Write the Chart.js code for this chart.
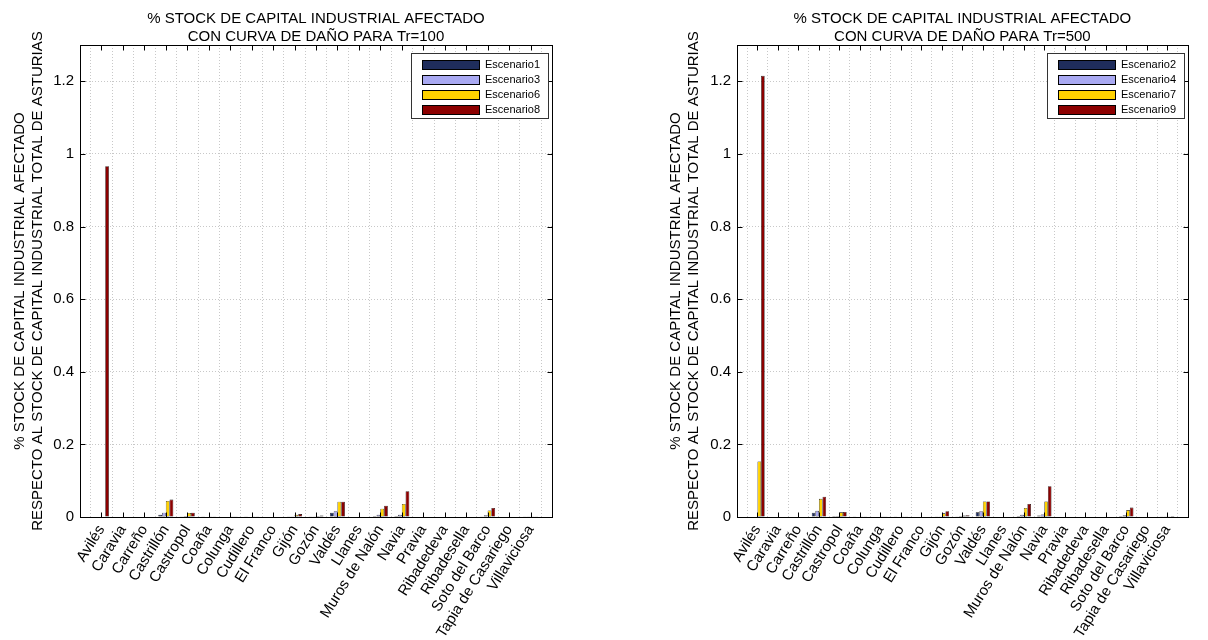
<!DOCTYPE html>
<html><head><meta charset="utf-8">
<script src="https://cdn.jsdelivr.net/npm/chart.js@4.4.0/dist/chart.umd.min.js"></script>
<style>
html,body{margin:0;padding:0;background:#fff;}
#wrap{position:relative;width:1208px;height:640px;overflow:hidden;}
.box{position:absolute;top:0;width:604px;height:640px;}
</style></head><body>
<div id="wrap">
<div class="box" style="left:0"><canvas id="c1" width="604" height="640"></canvas></div>
<div class="box" style="left:604px"><canvas id="c2" width="604" height="640"></canvas></div>
</div>
<script>
const categories = ['Avilés','Caravia','Carreño','Castrillón','Castropol','Coaña','Colunga','Cudillero','El Franco','Gijón','Gozón','Valdés','Llanes','Muros de Nalón','Navia','Pravia','Ribadedeva','Ribadesella','Soto del Barco','Tapia de Casariego','Villaviciosa'];
const yTickValues = [0, 0.2, 0.4, 0.6, 0.8, 1, 1.2];
const yTitle = ['% STOCK DE CAPITAL INDUSTRIAL AFECTADO', 'RESPECTO AL STOCK DE CAPITAL INDUSTRIAL TOTAL DE ASTURIAS'];
const title100 = ['% STOCK DE CAPITAL INDUSTRIAL AFECTADO', 'CON CURVA DE DAÑO PARA Tr=100'];
const title500 = ['% STOCK DE CAPITAL INDUSTRIAL AFECTADO', 'CON CURVA DE DAÑO PARA Tr=500'];

// Tr=100
const labels100 = ['Escenario1','Escenario3','Escenario6','Escenario8'];
const escenario1 = [0, 0, 0, 0.006, 0.002, 0.001, 0, 0.001, 0, 0.001, 0.002, 0.012, 0, 0.003, 0.003, 0, 0, 0, 0.002, 0, 0.001];
const escenario3 = [0, 0, 0, 0.012, 0.003, 0, 0, 0, 0, 0.002, 0.002, 0.016, 0, 0.006, 0.006, 0, 0, 0, 0.005, 0, 0.002];
const escenario6 = [0, 0, 0, 0.044, 0.011, 0.001, 0.001, 0.001, 0, 0.006, 0.003, 0.042, 0, 0.023, 0.036, 0, 0, 0, 0.018, 0, 0.002];
const escenario8 = [0.966, 0, 0, 0.048, 0.012, 0.001, 0.001, 0.001, 0, 0.008, 0.004, 0.042, 0, 0.031, 0.071, 0, 0, 0, 0.025, 0, 0.002];

// Tr=500
const labels500 = ['Escenario2','Escenario4','Escenario7','Escenario9'];
const escenario2 = [0, 0, 0, 0.012, 0.003, 0.001, 0, 0.001, 0, 0.001, 0.002, 0.013, 0, 0.003, 0.004, 0, 0, 0, 0.003, 0, 0.001];
const escenario4 = [0, 0, 0, 0.017, 0.003, 0, 0, 0, 0, 0.002, 0.003, 0.016, 0, 0.006, 0.007, 0, 0, 0, 0.005, 0, 0.002];
const escenario7 = [0.153, 0, 0, 0.050, 0.013, 0.001, 0.001, 0.001, 0, 0.010, 0.004, 0.043, 0, 0.025, 0.043, 0, 0, 0, 0.019, 0, 0.002];
const escenario9 = [1.215, 0, 0, 0.056, 0.014, 0.001, 0.001, 0.001, 0, 0.016, 0.005, 0.043, 0, 0.036, 0.085, 0, 0, 0, 0.026, 0, 0.003];

const colors = ['#1f2d5c', '#a9a9f2', '#ffd200', '#8c0000'];
const FONT = '"Liberation Sans", Arial, sans-serif';

const pad = arr => [null, ...arr, null];

const matlabPlugin = {
  id: 'matlab',
  afterDraw(chart, args, opts) {
    const {ctx, chartArea: a} = chart;
    const xs = chart.scales.x, ys = chart.scales.y;
    ctx.save();
    // frame
    ctx.strokeStyle = '#000'; ctx.lineWidth = 1;
    const L = Math.round(a.left) + 0.5, T = Math.round(a.top) + 0.5;
    const R = Math.round(a.right) + 0.5, B = Math.round(a.bottom) + 0.5;
    ctx.strokeRect(L, T, R - L, B - T);
    // inward ticks
    const tl = 5;
    ctx.beginPath();
    chart.data.labels.forEach((lab, i) => {
      if (!lab) return;
      const x = Math.round(xs.getPixelForTick(i)) + 0.5;
      ctx.moveTo(x, B); ctx.lineTo(x, B - tl);
      ctx.moveTo(x, T); ctx.lineTo(x, T + tl);
    });
    ys.ticks.forEach(t => {
      const y = Math.round(ys.getPixelForValue(t.value)) + 0.5;
      ctx.moveTo(L, y); ctx.lineTo(L + tl, y);
      ctx.moveTo(R, y); ctx.lineTo(R - tl, y);
    });
    ctx.stroke();
    // title
    ctx.fillStyle = '#000';
    ctx.font = '15px ' + FONT;
    ctx.textAlign = 'center'; ctx.textBaseline = 'middle';
    const cx = (a.left + a.right) / 2;
    opts.title.forEach((l, i) => ctx.fillText(l, cx, 19 + 18 * i));
    // legend
    ctx.font = '11px ' + FONT;
    ctx.textAlign = 'left';
    const ds = chart.data.datasets;
    const tw = Math.max(...ds.map(d => ctx.measureText(d.label).width));
    const padL = 11, sw = 57, gap = 6, padR = 8, rowH = 15;
    const w = Math.round(padL + sw + gap + tw + padR), h = 65;
    const bx = Math.round(a.right - 4 - w), by = Math.round(a.top + 8);
    ctx.fillStyle = '#fff'; ctx.fillRect(bx, by, w, h);
    ctx.strokeStyle = '#333'; ctx.strokeRect(bx + 0.5, by + 0.5, w, h);
    ds.forEach((d, i) => {
      const cy = by + 11 + i * rowH;
      ctx.fillStyle = d.backgroundColor;
      ctx.fillRect(bx + padL, cy - 4, sw, 9);
      ctx.strokeStyle = '#000';
      ctx.strokeRect(bx + padL + 0.5, cy - 4 + 0.5, sw, 9);
      ctx.fillStyle = '#000';
      ctx.fillText(d.label, bx + padL + sw + gap, cy + 0.5);
    });
    ctx.restore();
  }
};

function makeChart(id, seriesLabels, series, title, padLeft, padRight, yWidth) {
  return new Chart(document.getElementById(id), {
    type: 'bar',
    data: {
      labels: ['', ...categories, ''],
      datasets: series.map((s, i) => ({
        label: seriesLabels[i],
        data: pad(s),
        backgroundColor: colors[i],
        borderColor: '#000',
        borderWidth: 0.6,
        borderSkipped: false,
        categoryPercentage: 0.7,
        barPercentage: 1.0
      }))
    },
    options: {
      responsive: false,
      animation: false,
      layout: {padding: {left: padLeft, right: padRight, top: 45, bottom: 0}},
      plugins: {
        legend: {display: false},
        tooltip: {enabled: false},
        matlab: {title: title}
      },
      scales: {
        x: {
          offset: false,
          grid: {color: '#c8c8c8', lineWidth: 1, drawTicks: false},
          border: {display: false, dash: [1, 2]},
          ticks: {
            autoSkip: false, minRotation: 58, maxRotation: 58, padding: 5,
            color: '#000', font: {family: FONT, size: 15}
          },
          afterFit: s => { s.height = 123; }
        },
        y: {
          min: 0, max: 1.3,
          grid: {color: '#c8c8c8', lineWidth: 1, drawTicks: false},
          border: {display: false, dash: [1, 2]},
          afterBuildTicks: s => { s.ticks = yTickValues.map(v => ({value: v})); },
          ticks: {
            padding: 6, color: '#000', font: {family: FONT, size: 15},
            callback: v => String(v)
          },
          title: {
            display: true, text: yTitle, color: '#000',
            font: {family: FONT, size: 15}, padding: {top: 11, bottom: 0}
          },
          afterFit: s => { s.width = yWidth; }
        }
      }
    },
    plugins: [matlabPlugin]
  });
}

makeChart('c1', labels100, [escenario1, escenario3, escenario6, escenario8], title100, 0, 52, 80);
makeChart('c2', labels500, [escenario2, escenario4, escenario7, escenario9], title500, 52, 9, 81);
</script>
</body></html>
